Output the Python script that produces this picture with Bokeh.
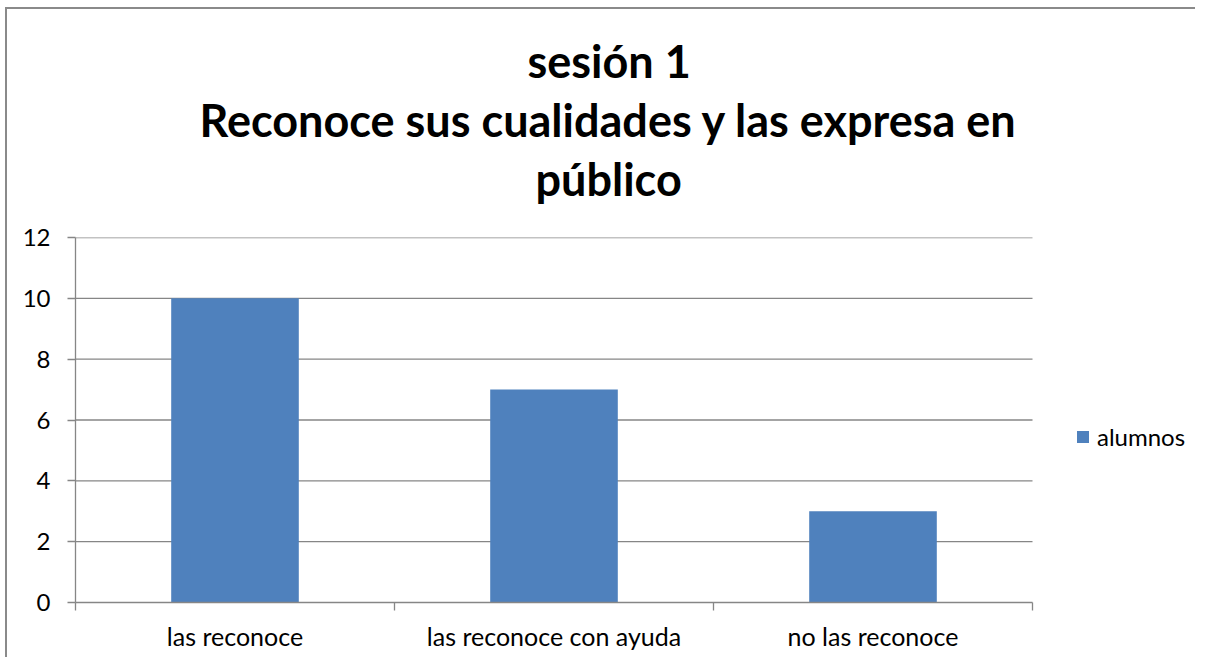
from bokeh.plotting import figure
from bokeh.models import (ColumnDataSource, Legend, LegendItem, LinearAxis,
                          FixedTicker, Range1d, Title)
from bokeh.embed import file_html
from bokeh.resources import INLINE

categories = ["las reconoce", "las reconoce con ayuda", "no las reconoce"]
alumnos = [10, 7, 3]
y_ticks = [0, 2, 4, 6, 8, 10, 12]
title_lines = ["sesión 1", "Reconoce sus cualidades y las expresa en", "público"]
series_name = "alumnos"

BAR = "#4F81BD"
GRID = "#868686"
FONT = "Lato"

W, H = 1190, 650
LEFT, TOP, CAT_W, FRAME_H = 68, 228, 957, 365
n = len(categories)
x_end = n * (W - LEFT) / CAT_W     # frame continues to the right to hold the legend

p = figure(width=W, height=H, x_range=Range1d(0, x_end), y_range=Range1d(0, 12.001),
           output_backend="svg", toolbar_location=None, x_axis_type=None,
           y_axis_type=None, min_border_left=LEFT, min_border_right=0,
           min_border_top=TOP, min_border_bottom=H - TOP - FRAME_H)
p.outline_line_color = None
p.grid.visible = False
p.styles = {"margin-left": "5px", "margin-top": "7px",
            "border-left": "2px solid #8a8a8a", "border-top": "2px solid #8a8a8a"}

centres = [i + 0.5 for i in range(n)]
bounds = [float(i) for i in range(n + 1)]

# horizontal grid lines, limited to the category area
grid_y = [v for v in y_ticks if v > 0]
p.segment(x0=[0] * len(grid_y), x1=[n] * len(grid_y), y0=grid_y, y1=grid_y,
          line_color=GRID, line_width=1.3)

src = ColumnDataSource(dict(x=centres, cat=categories, val=alumnos))
r = p.vbar(x="x", top="val", width=0.4, source=src, fill_color=BAR,
           line_color=None)

yax = LinearAxis(ticker=FixedTicker(ticks=y_ticks))
yax.axis_line_color = GRID
yax.axis_line_width = 1.3
yax.major_tick_line_color = GRID
yax.major_tick_line_width = 1.3
yax.major_tick_out = 8
yax.major_tick_in = 0
yax.minor_tick_line_color = None
yax.major_label_text_font = FONT
yax.major_label_text_font_size = "24px"
yax.major_label_text_color = "black"
yax.major_label_standoff = 17
p.add_layout(yax, "left")

xax = LinearAxis(ticker=FixedTicker(ticks=centres, minor_ticks=bounds),
                 major_label_overrides={c: lab for c, lab in zip(centres, categories)},
                 bounds=(0, n))
xax.axis_line_color = GRID
xax.axis_line_width = 1.3
xax.major_tick_line_color = None
xax.minor_tick_line_color = GRID
xax.minor_tick_line_width = 1.3
xax.minor_tick_out = 8
xax.minor_tick_in = 0
xax.major_label_text_font = FONT
xax.major_label_text_font_size = "25px"
xax.major_label_text_color = "black"
xax.major_label_standoff = 10
p.add_layout(xax, "below")

legend = Legend(items=[LegendItem(label=series_name, renderers=[r])],
                location=(1000, 151), glyph_width=15, glyph_height=15,
                label_standoff=7, padding=0, margin=0, border_line_color=None,
                background_fill_alpha=0, label_text_font=FONT,
                label_text_font_size="24px", label_text_color="black")
p.add_layout(legend)

# empty spacer between the plot area and the title block
p.add_layout(Title(text=" ", text_font_size="1px", standoff=27), "above")

# title lines, centred on the whole chart (stacked from the plot upwards)
offsets = [452, 124, 460]
for txt, off in reversed(list(zip(title_lines, offsets))):
    p.add_layout(Title(text=txt, align="left", offset=off, text_font=FONT,
                       text_font_style="bold", text_font_size="45px",
                       text_color="black", standoff=3), "above")

open("out.html", "w").write(file_html(p, INLINE))
